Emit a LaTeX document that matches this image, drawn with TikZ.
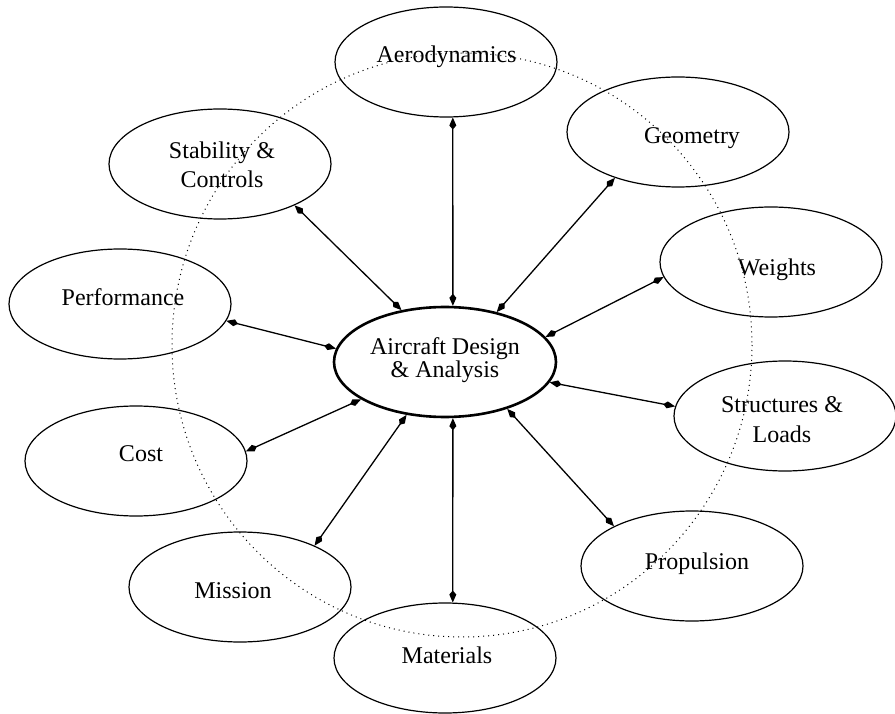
\documentclass[tikz,border=0pt]{standalone}
\usepackage{fontspec}
\setmainfont{Liberation Serif}
\usetikzlibrary{shapes.geometric,arrows.meta}
\begin{document}
\begin{tikzpicture}[x=1pt,y=-1pt,
  module/.style={draw, ellipse, line width=1.2pt, minimum width=222pt, minimum height=110pt, inner sep=0pt},
  hub/.style={module, line width=2.6pt},
  caption/.style={font=\fontsize{24}{28}\selectfont, inner sep=0pt, align=center},
  link/.style={line width=1.3pt, {Kite[length=12pt,width=7pt,inset=4pt]}-{Kite[length=12pt,width=7pt,inset=4pt]}},
  orbit/.style={line width=1pt, dash pattern=on 1pt off 4pt}]
\useasboundingbox (0,0) rectangle (895,714);

% dotted ring behind the modules
\draw[orbit] (462,345) ellipse [x radius=290, y radius=292];

% discipline modules
\node[module] (aero)  at (446,62)  {};
\node[module] (geo)   at (678,132) {};
\node[module] (wts)   at (771,262) {};
\node[module] (struc) at (785,416) {};
\node[module] (prop)  at (692,566) {};
\node[module] (mat)   at (445,658) {};
\node[module] (mis)   at (240,587) {};
\node[module] (cost)  at (136,461) {};
\node[module] (perf)  at (120,304) {};
\node[module] (stab)  at (220,164) {};
\node[hub]    (hub)   at (445,362) {};

% labels
\node[caption, anchor=base] (t-aero) at (446.5,63) {Aerodynamics};
\node[caption, anchor=base] (t-geo)  at (692,144)  {Geometry};
\node[caption, anchor=base] (t-wts)  at (777,276)  {Weights};
\node[caption, anchor=base] (t-perf) at (123,306)  {Performance};
\node[caption, anchor=base] (t-cost) at (141,461)  {Cost};
\node[caption, anchor=base] (t-prop) at (697,569)  {Propulsion};
\node[caption, anchor=base] (t-mis)  at (233,598)  {Mission};
\node[caption, anchor=base] (t-mat)  at (447,663)  {Materials};
\node[caption] (t-stab)  at (222,164.3) {Stability \&\\[1pt]Controls};
\node[caption] (t-struc) at (782,420)   {Structures \&\\[2pt]Loads};
\node[caption] (t-hub)   at (445,360)   {Aircraft Design\\[-5pt]\& Analysis};

% two-way links between the hub and each module
\draw[link] (hub.82)  -- (aero.277);
\draw[link] (hub.44)  -- (geo.216);
\draw[link] (hub.14)  -- (wts.188);
\draw[link] (hub.349) -- (struc.175);
\draw[link] (hub.323) -- (prop.153);
\draw[link] (hub.278) -- (mat.82);
\draw[link] (hub.234) -- (mis.29);
\draw[link] (hub.204) -- (cost.5);
\draw[link] (hub.173) -- (perf.351);
\draw[link] (hub.130) -- (stab.331);
\end{tikzpicture}
\end{document}
